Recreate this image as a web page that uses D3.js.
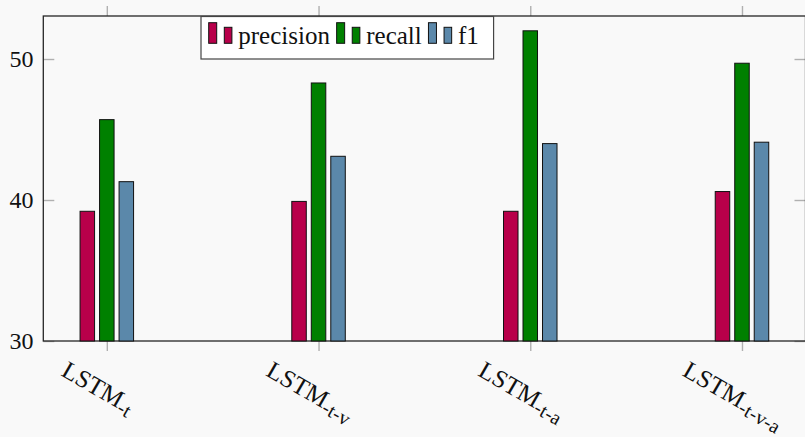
<!DOCTYPE html>
<html><head><meta charset="utf-8">
<script src="https://cdn.jsdelivr.net/npm/d3@7"></script>
<style>html,body{margin:0;padding:0;background:#f9f9f9;} svg{display:block;}
text{font-family:"Liberation Serif","Tinos","Times New Roman","DejaVu Serif",serif;}</style>
</head><body><svg id="c" width="805" height="437"></svg>
<script>
const categories = ["LSTM-t", "LSTM-t-v", "LSTM-t-a", "LSTM-t-v-a"];
const seriesNames = ["precision", "recall", "f1"];
const precision = [39.2, 39.9, 39.2, 40.6];
const recall = [45.7, 48.3, 52.0, 49.7];
const f1 = [41.3, 43.1, 44.0, 44.1];
const yTicks = [30, 40, 50];
const colors = ["#b8004a", "#008000", "#5b88aa"];

const series = [precision, recall, f1];
const svg = d3.select("#c");
const pL = 43.3, pR = 805.5, pT = 16, pB = 341;
const x = d3.scaleLinear().domain([-0.3, categories.length - 1 + 0.3]).range([pL, pR]);
const y = d3.scaleLinear().domain([30, 53.05]).range([pB, pT]);
const idx = d3.range(categories.length);

// tick marks
const tickColor = "#b0b0b0";
function styleAxis(g) {
  g.select(".domain").remove();
  g.selectAll(".tick line").attr("stroke", tickColor).attr("stroke-width", 1.4);
  g.selectAll(".tick text").remove();
}
svg.append("g").attr("transform", `translate(${pL},0)`)
  .call(d3.axisLeft(y).tickValues(yTicks).tickSize(-11)).call(styleAxis);
svg.append("g").attr("transform", `translate(${pR},0)`)
  .call(d3.axisRight(y).tickValues(yTicks).tickSize(-11)).call(styleAxis);
svg.append("g").attr("transform", `translate(0,${pB})`)
  .call(d3.axisBottom(x).tickValues(idx).tickSize(10)).call(styleAxis);
svg.append("g").attr("transform", `translate(0,${pT})`)
  .call(d3.axisTop(x).tickValues(idx).tickSize(10)).call(styleAxis);

// frame
svg.append("rect").attr("x", pL).attr("y", pT)
  .attr("width", pR - pL).attr("height", pB - pT)
  .attr("fill", "none").attr("stroke", "#262626").attr("stroke-width", 1.3);

// y tick labels
svg.append("g").selectAll("text").data(yTicks).join("text")
  .attr("x", 33.5).attr("y", d => y(d) + 8)
  .attr("text-anchor", "end")
  .attr("font-size", 24).attr("fill", "#111")
  .text(d => d);

// bars
const barW = 14.5, step = 19.5;
series.forEach((vals, s) => {
  svg.append("g").selectAll("rect").data(vals).join("rect")
    .attr("x", (d, i) => x(i) + (s - 1) * step - barW / 2)
    .attr("width", barW)
    .attr("y", d => y(d))
    .attr("height", d => y(30) - y(d))
    .attr("fill", colors[s])
    .attr("stroke", "#111").attr("stroke-width", 1);
});

// x tick labels (rotated)
categories.forEach((c, i) => {
  const cut = c.indexOf("-");
  const main = c.slice(0, cut), sub = c.slice(cut);
  const t = svg.append("text")
    .attr("text-anchor", "middle")
    .attr("font-size", 25).attr("fill", "#111");
  t.append("tspan").text(main);
  t.append("tspan").attr("font-size", 20).attr("dy", 4).text(sub);
  t.attr("transform", `translate(${x(i)},380) rotate(30)`);
  const r = t.node().getBoundingClientRect();
  const dx = (x(i) - 9) - (r.left + r.width / 2);
  const dy = 356 - r.top;
  t.attr("transform", `translate(${x(i) + dx},${380 + dy}) rotate(30)`);
});

// legend
const lg = svg.append("g");
const box = lg.append("rect").attr("fill", "#fff").attr("stroke", "#444").attr("stroke-width", 1.2);
let cur = 208.7;
const lx0 = 201, ly0 = 16.5, ly1 = 59;
seriesNames.forEach((n, s) => {
  lg.append("rect").attr("x", cur).attr("y", 22.7).attr("width", 8).attr("height", 20.6)
    .attr("fill", colors[s]).attr("stroke", "#111").attr("stroke-width", 1);
  lg.append("rect").attr("x", cur + 15.6).attr("y", 27.3).attr("width", 7.6).attr("height", 16)
    .attr("fill", colors[s]).attr("stroke", "#111").attr("stroke-width", 1);
  const t = lg.append("text").attr("x", cur + 29.6).attr("y", 44.3)
    .attr("font-size", 25).attr("fill", "#111").text(n);
  const w = t.node().getComputedTextLength();
  cur = cur + 29.6 + w + 6.7;
});
box.attr("x", lx0).attr("y", ly0).attr("width", cur - 6.7 + 14.7 - lx0).attr("height", ly1 - ly0);
</script>
</body></html>
